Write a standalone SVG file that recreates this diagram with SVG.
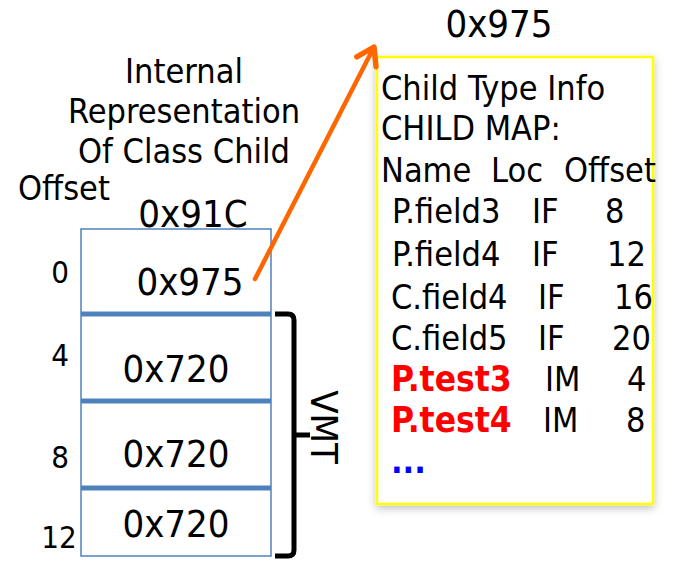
<svg xmlns="http://www.w3.org/2000/svg" width="677" height="564" viewBox="0 0 677 564">
<style>
text{font-family:'DejaVu Sans Condensed','DejaVu Sans',sans-serif;font-stretch:condensed;fill:#000}
.lbl{font-size:34px}
.val{font-size:38px}
.off{font-size:31px}
.tb{font-size:34px}
.red{fill:#ff0000;font-weight:bold;font-size:35px}
.blue{fill:#0000ff;font-weight:bold}
.cell{fill:#fff;stroke:#4f81bd;stroke-width:1.5}
.div{stroke:#4f81bd;stroke-width:5}
</style>
<defs>
<filter id="sh" x="-10%" y="-10%" width="120%" height="120%">
<feDropShadow dx="0" dy="3" stdDeviation="4" flood-color="#000" flood-opacity="0.25"/>
</filter>
<marker id="ah" markerWidth="6" markerHeight="6" refX="4.5" refY="3" orient="auto" markerUnits="strokeWidth" viewBox="0 0 6 6">
<polyline points="0.8,0.6 4.5,3 0.8,5.4" fill="none" stroke="#ff6600" stroke-width="1.2" stroke-linecap="round" stroke-linejoin="round"/>
</marker>
</defs>
<g id="title">
<text class="lbl" x="184" y="83" text-anchor="middle">Internal</text>
<text class="lbl" x="184" y="123" text-anchor="middle">Representation</text>
<text class="lbl" x="184" y="163" text-anchor="middle">Of Class Child</text>
<text class="lbl" x="18" y="200">Offset</text>
</g>
<g id="object">
<text class="val" x="193" y="227" text-anchor="middle">0x91C</text>
<rect class="cell" x="81" y="229" width="190" height="327"/>
<line class="div" x1="81" y1="314" x2="271" y2="314"/>
<line class="div" x1="81" y1="401" x2="271" y2="401"/>
<line class="div" x1="81" y1="488" x2="271" y2="488"/>
<text class="val" x="190" y="295" text-anchor="middle">0x975</text>
<text class="val" x="176" y="382" text-anchor="middle">0x720</text>
<text class="val" x="176" y="467" text-anchor="middle">0x720</text>
<text class="val" x="176" y="537" text-anchor="middle">0x720</text>
<text class="off" x="60" y="283" text-anchor="middle">0</text>
<text class="off" x="60" y="366" text-anchor="middle">4</text>
<text class="off" x="60" y="468" text-anchor="middle">8</text>
<text class="off" x="59" y="548" text-anchor="middle">12</text>
</g>
<g id="vmt">
<path d="M275 314 H288 Q294 314 294 320 V550 Q294 556 288 556 H275 M294 435 H310" fill="none" stroke="#000" stroke-width="5" stroke-linejoin="round"/>
<text class="val" transform="translate(311 427) rotate(90)" text-anchor="middle">VMT</text>
</g>
<g id="typeinfo">
<text class="val" x="499" y="37" text-anchor="middle">0x975</text>
<rect x="377" y="57" width="276" height="447" fill="#fff" stroke="#ffff00" stroke-width="2.5" filter="url(#sh)"/>
<text class="tb" x="381" y="100">Child Type Info</text>
<text class="tb" x="381" y="140">CHILD MAP:</text>
<text class="tb" x="381" y="182">Name</text>
<text class="tb" x="491" y="182">Loc</text>
<text class="tb" x="564" y="182">Offset</text>
<text class="tb" x="392" y="223">P.field3</text>
<text class="tb" x="532" y="223">IF</text>
<text class="tb" x="605" y="223">8</text>
<text class="tb" x="392" y="266">P.field4</text>
<text class="tb" x="532" y="266">IF</text>
<text class="tb" x="607" y="266">12</text>
<text class="tb" x="391" y="309">C.field4</text>
<text class="tb" x="538" y="309">IF</text>
<text class="tb" x="614" y="309">16</text>
<text class="tb" x="391" y="350">C.field5</text>
<text class="tb" x="538" y="350">IF</text>
<text class="tb" x="612" y="350">20</text>
<text class="tb red" x="391" y="391">P.test3</text>
<text class="tb" x="545" y="391">IM</text>
<text class="tb" x="627" y="391">4</text>
<text class="tb red" x="391" y="432">P.test4</text>
<text class="tb" x="543" y="432">IM</text>
<text class="tb" x="626" y="432">8</text>
<text class="tb blue" x="391" y="473">...</text>
</g>
<g id="connectors">
<line x1="255" y1="279" x2="374" y2="47" stroke="#ff6600" stroke-width="4.5" stroke-linecap="round" marker-end="url(#ah)"/>
</g>
</svg>
